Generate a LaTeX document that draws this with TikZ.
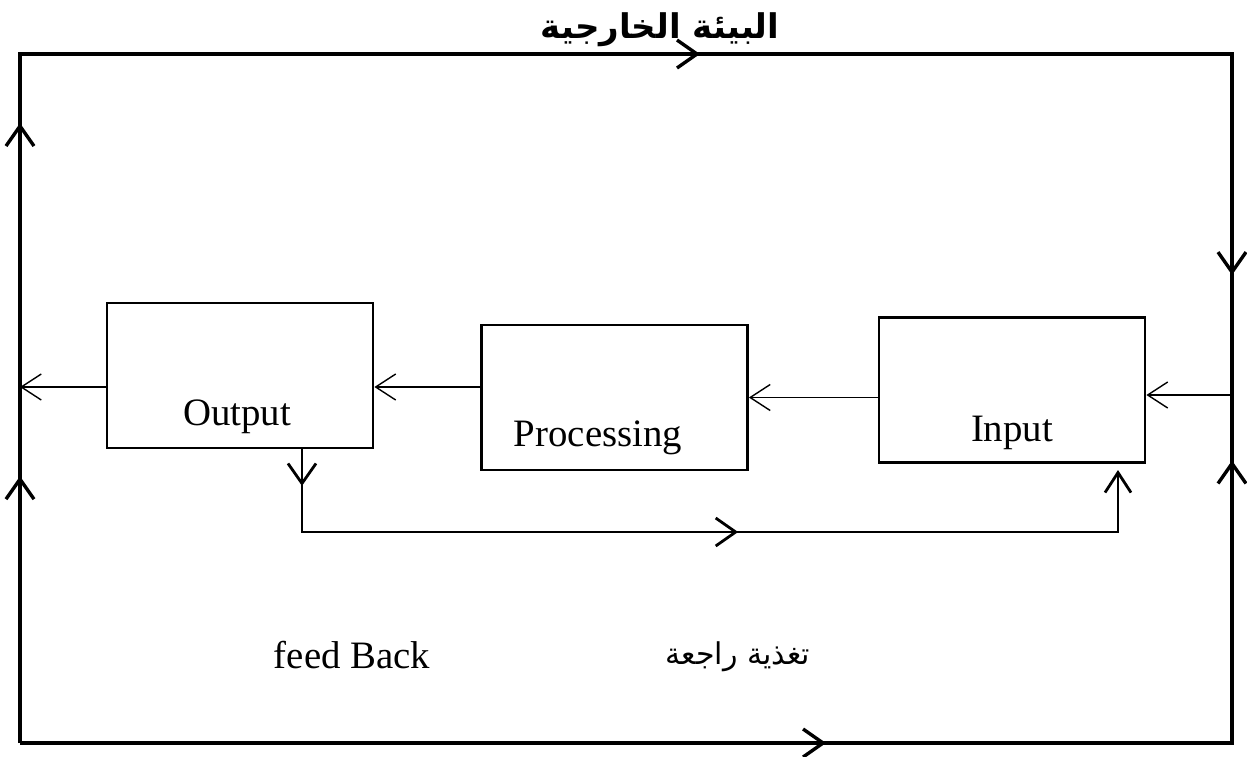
\documentclass[tikz,border=0pt]{standalone}
\usepackage{fontspec}
\setmainfont{Liberation Serif}
\newfontfamily\arabicfont[Script=Arabic]{DejaVu Sans}
\TeXXeTstate=1
\usetikzlibrary{arrows.meta,decorations.markings}

\tikzset{
  every node/.style={font=\fontsize{19.4}{23}\selectfont},
  box/.style={draw, line width=1.4pt, minimum width=133pt, minimum height=72.5pt, inner sep=0pt},
  envline/.style={line width=1.7pt},
  fback/.style={line width=1.4pt},
  link/.style={line width=0.7pt, -{Straight Barb[length=10pt,width=13pt]}},
  midarrow/.style={postaction={decorate, decoration={markings,
      mark=at position #1 with {\arrow{Straight Barb[length=10pt,width=14pt]}}}}},
}

\begin{document}
\begin{tikzpicture}[x=0.5pt,y=-0.5pt]
    \useasboundingbox (0,0) rectangle (1247,756);

    % corners of the environment
    \coordinate (TL) at (20,54);
    \coordinate (TR) at (1232,54);
    \coordinate (BR) at (1232,743);
    \coordinate (BL) at (20,743);
    \coordinate (L) at (20,387);
    \coordinate (R) at (1232,395);

    \node[box] (Out) at (240,375.5) {};
    \node[box] (Proc) at (614.5,397.5) {};
    \node[box] (In) at (1012,390) {};
    \node (OutTxt) at (237,417) {Output};
    \node (ProcTxt) at (598,438) {Processing};
    \node (InTxt) at (1012,433) {Input};

    \node (Env) at (660,30) {\arabicfont\bfseries\fontsize{17}{20}\selectfont\beginR البيئة الخارجية\endR};
    \node (FB) at (352,655) {feed Back};
    \node (FBar) at (738,657) {\arabicfont\fontsize{15}{18}\selectfont\beginR تغذية راجعة\endR};

    \draw[envline, midarrow=0.119, midarrow=0.2765, midarrow=0.6106, midarrow=0.9465]
        (BL) -- (TL) -- (TR) -- (R);
    \draw[envline, midarrow=0.5167, midarrow=0.958]
        (BL) -- (BR) -- (R);

    \draw[link] (R) -- (In.east |- R);
    \draw[link] (In.west |- Proc.east) -- (Proc.east);
    \draw[link] (Proc.west |- L) -- (Out.east |- L);
    \draw[link] (Out.west |- L) -- (L);

    % feed back
    \coordinate (F1) at (302,532);
    \coordinate (F2) at (1118,532);
    \coordinate (F3) at (1118,470);
    \draw[fback, midarrow=0.038, midarrow=0.54, -{Straight Barb[length=10pt,width=13pt]}]
        (Out.south -| F1) -- (F1) -- (F2) -- (F3);
\end{tikzpicture}
\end{document}
